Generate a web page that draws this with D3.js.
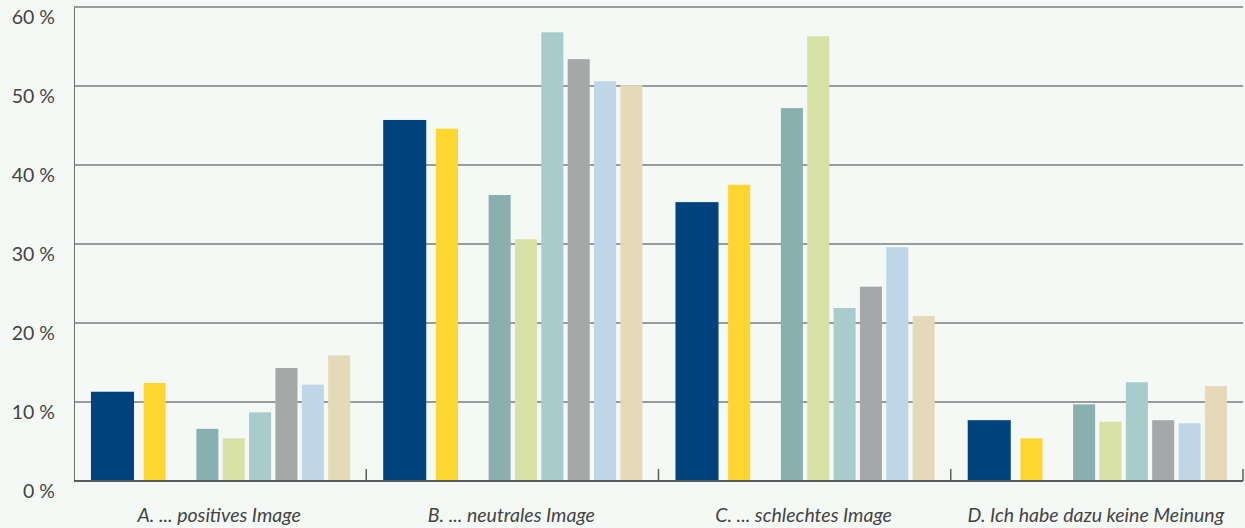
<!DOCTYPE html>
<html><head><meta charset="utf-8">
<script src="https://cdn.jsdelivr.net/npm/d3@7"></script>
<style>
html,body{margin:0;padding:0;background:#f5f9f6;}
svg{display:block;}
</style></head>
<body>
<svg id="c" width="1245" height="528"></svg>
<script>
const categories = ["A. ... positives Image","B. ... neutrales Image","C. ... schlechtes Image","D. Ich habe dazu keine Meinung"];
const yTicks = [0,10,20,30,40,50,60];
const seriesNames = ["s1","s2","s3","s4","s5","s6","s7","s8"];
const seriesColors = ["#00437f","#ffd530","#89b0af","#d8e1a5","#a7cccb","#a6a7a9","#bed6e7","#e5dab8"];
const seriesSlots = [0,2,4,5,6,7,8,9];
const seriesSpan = [2,1,1,1,1,1,1,1];
const s1 = [11.3,45.7,35.3,7.7];
const s2 = [12.4,44.6,37.5,5.4];
const s3 = [6.6,36.2,47.2,9.7];
const s4 = [5.4,30.6,56.3,7.5];
const s5 = [8.7,56.8,21.9,12.5];
const s6 = [14.3,53.4,24.6,7.7];
const s7 = [12.2,50.6,29.6,7.3];
const s8 = [15.9,50.1,20.9,12.0];
const values = [s1,s2,s3,s4,s5,s6,s7,s8];

const svg = d3.select("#c");
const L=74, R=1243, T=7, B=481;
const x0 = d3.scaleBand().domain(categories).range([L,R]).padding(0);
const bw0 = x0.bandwidth();
const x1 = d3.scaleBand().domain(d3.range(10)).range([bw0*0.058, bw0*0.945]).paddingInner(0.164).paddingOuter(0);
const y = d3.scaleLinear().domain([0,60]).range([B,T]);

// gridlines
svg.append("g").selectAll("line").data(yTicks.filter(d=>d>0)).join("line")
  .attr("x1",L).attr("x2",R).attr("y1",d=>y(d)).attr("y2",d=>y(d))
  .attr("stroke","#3d403e").attr("stroke-width",1.2);

// bars
const g = svg.append("g");
values.forEach((vals,si)=>{
  g.append("g").selectAll("rect").data(vals.map((v,i)=>({c:categories[i],v}))).join("rect")
    .attr("x",d=>x0(d.c)+x1(seriesSlots[si]))
    .attr("width",x1.bandwidth()*seriesSpan[si] - (seriesSpan[si]>1?1:0))
    .attr("y",d=>y(d.v)).attr("height",d=>B-y(d.v))
    .attr("fill",seriesColors[si]);
});

// y axis line
svg.append("line").attr("x1",L+0.5).attr("x2",L+0.5).attr("y1",T).attr("y2",B)
  .attr("stroke","#6e716f").attr("stroke-width",1);
// baseline
svg.append("line").attr("x1",L).attr("x2",R).attr("y1",B).attr("y2",B)
  .attr("stroke","#5a5d5b").attr("stroke-width",2);
// category ticks
svg.append("g").selectAll("line").data(categories.slice(1).map(c=>x0(c)).concat([R])).join("line")
  .attr("x1",d=>d).attr("x2",d=>d).attr("y1",B).attr("y2",B-12)
  .attr("stroke","#5a5d5b").attr("stroke-width",1.5);

// y labels
svg.append("g").selectAll("text").data(yTicks).join("text")
  .attr("x",55).attr("y",d=>y(d)+17)
  .attr("text-anchor","end")
  .attr("font-family","Lato, sans-serif").attr("font-size",19.5).attr("fill","#444")
  .text(d=>d+" %");

// category labels
svg.append("g").selectAll("text").data(categories).join("text")
  .attr("x",d=>x0(d)+bw0/2-1).attr("y",522)
  .attr("text-anchor","middle")
  .attr("font-family","Lato, sans-serif").attr("font-style","italic").attr("font-size",19.5).attr("fill","#444")
  .text(d=>d);
</script>
</body></html>
